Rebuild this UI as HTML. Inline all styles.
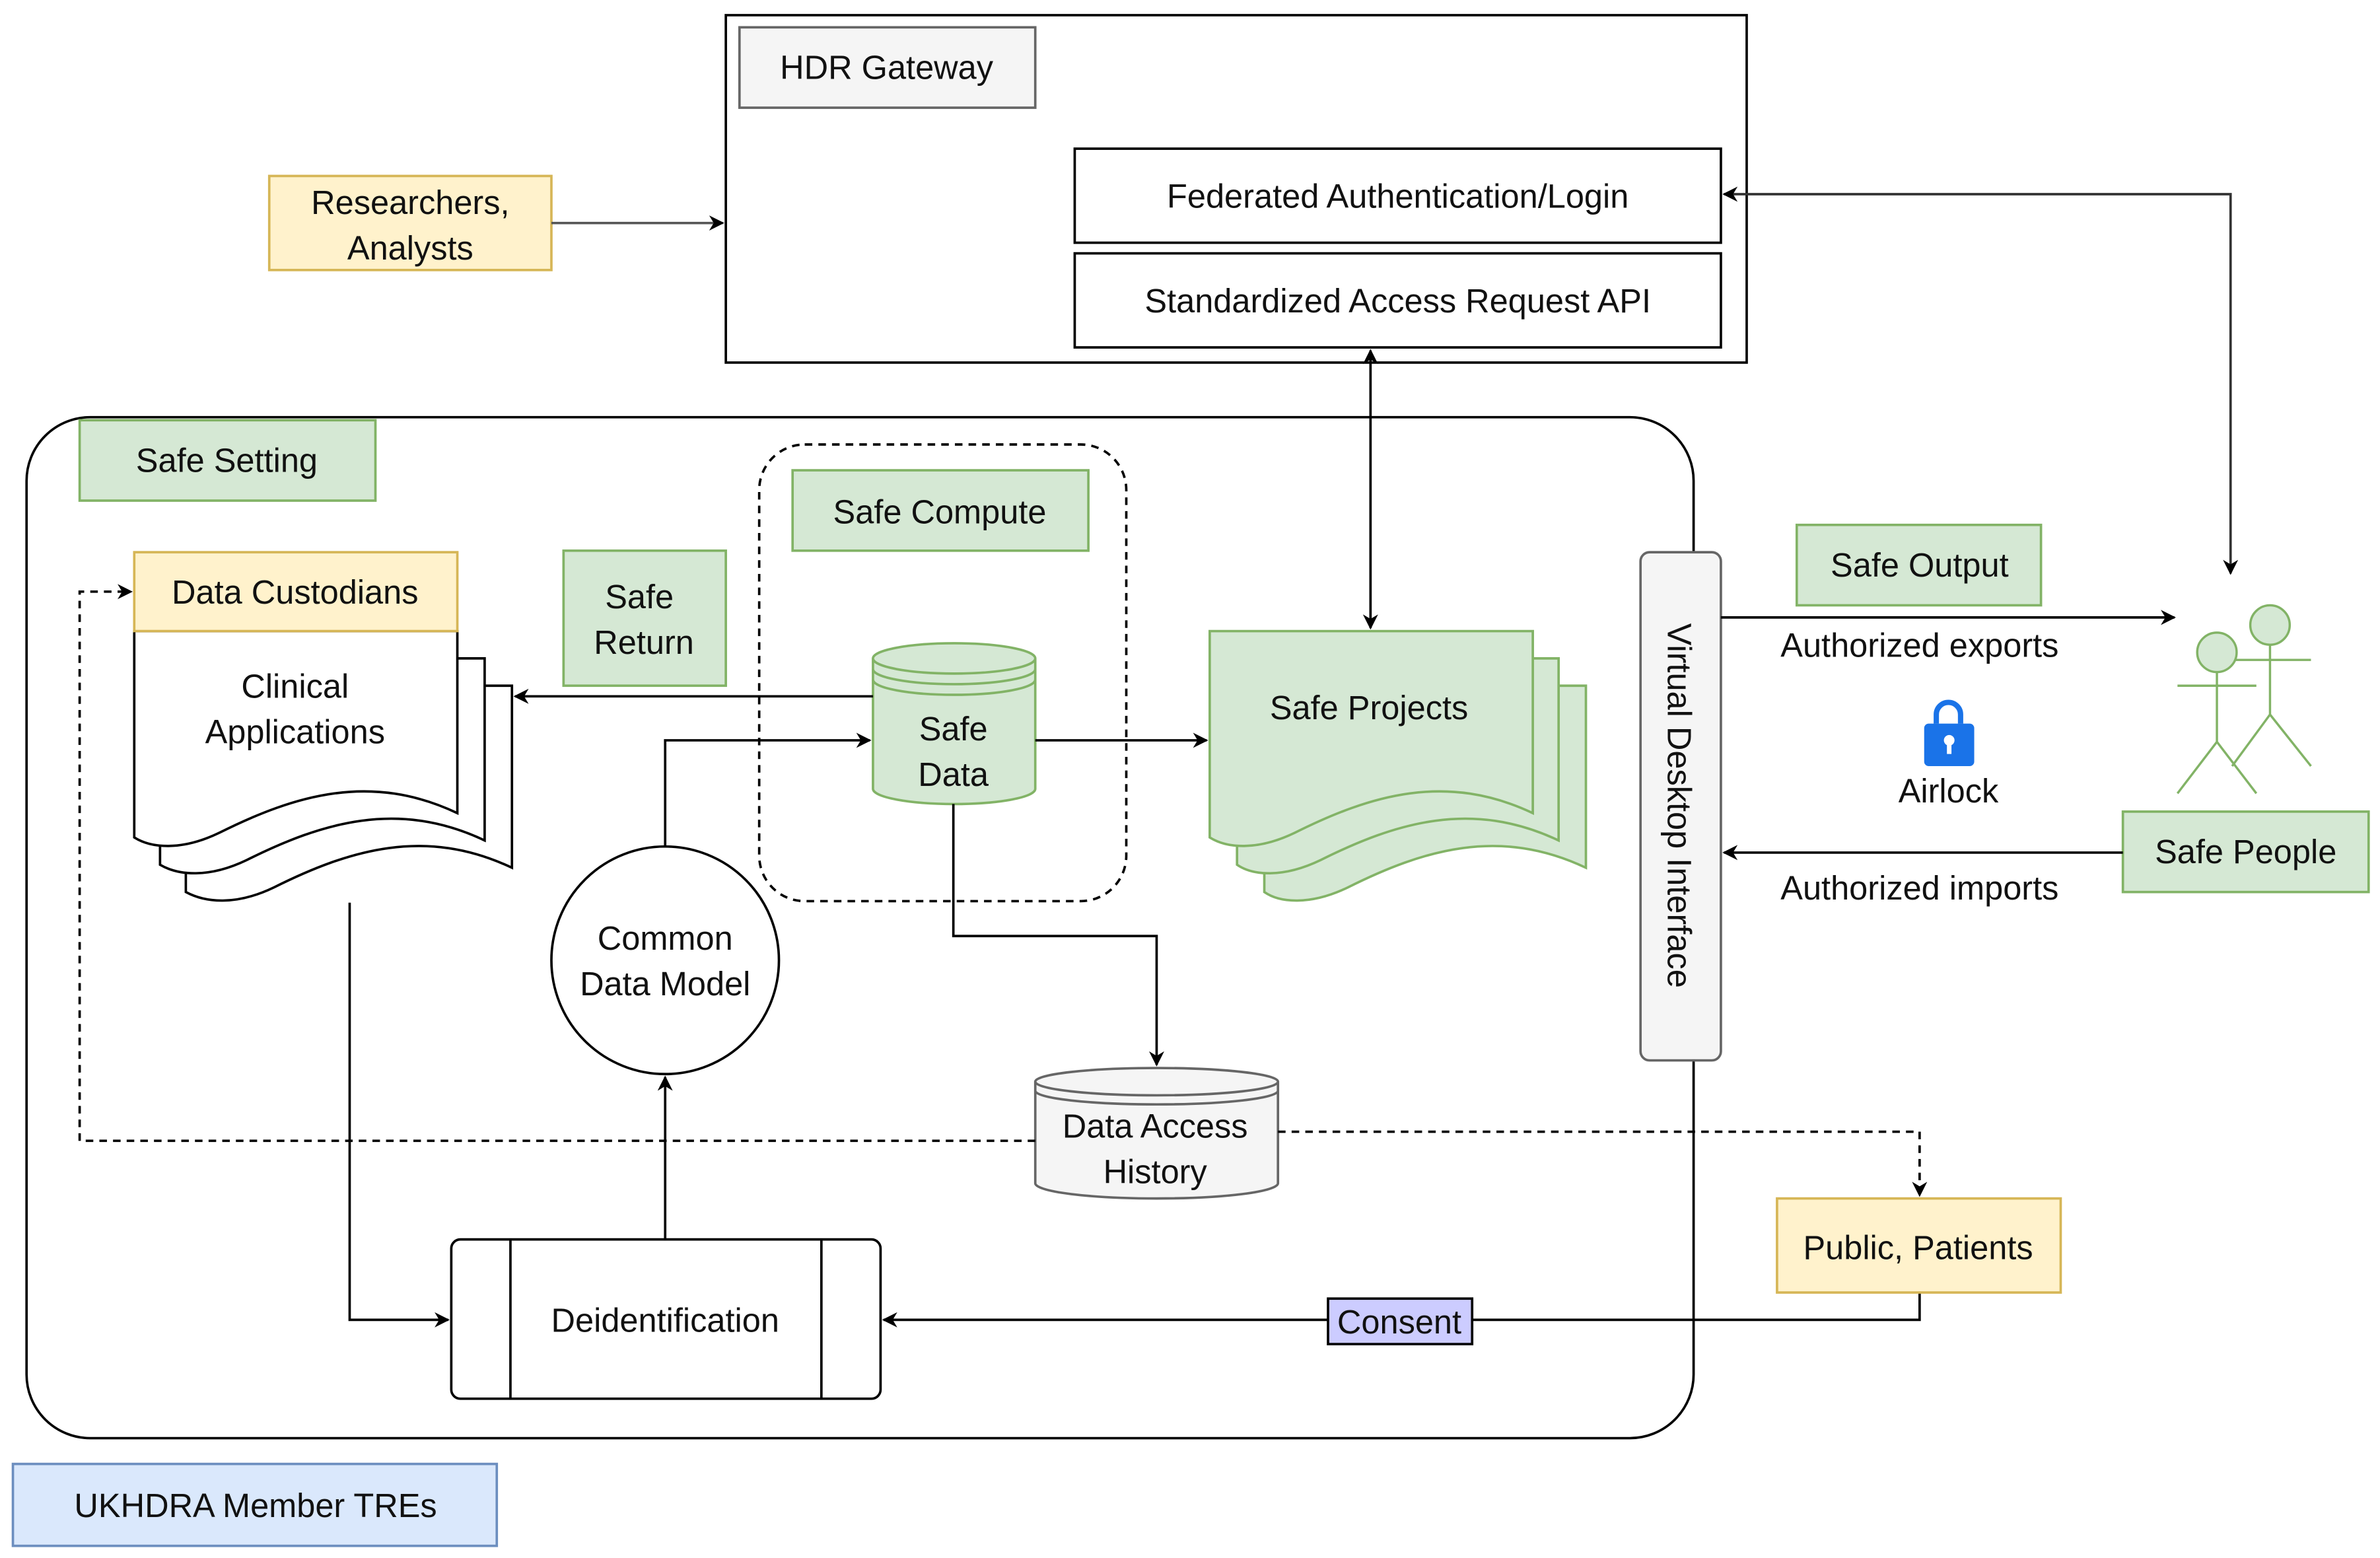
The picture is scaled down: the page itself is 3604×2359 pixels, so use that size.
<!DOCTYPE html>
<html><head><meta charset="utf-8"><style>html,body{margin:0;padding:0;background:#fff}svg{display:block}text{font-family:"Liberation Sans",Arial,sans-serif;font-size:22px;fill:#111}</style></head>
<body>
<svg width="3604" height="2359" viewBox="0 0 1568 1027" xmlns="http://www.w3.org/2000/svg">
<defs>
<marker id="a" viewBox="0 0 10 10" refX="9" refY="5" markerWidth="10" markerHeight="10" orient="auto-start-reverse" markerUnits="userSpaceOnUse"><path d="M0,0 L10,5 L0,10 L3,5 z" fill="#000"/></marker>
</defs>
<g stroke="#000" stroke-width="1.6" fill="none">
<rect x="478" y="10" width="673" height="229" fill="#fff"/>
<rect x="487" y="18" width="195" height="53" fill="#f5f5f5" stroke="#666"/>
<rect x="708" y="98" width="426" height="62" fill="#fff"/>
<rect x="708" y="167" width="426" height="62" fill="#fff"/>
<rect x="177" y="116" width="186" height="62" fill="#fff2cc" stroke="#d6b656"/>
<line x1="363" y1="147" x2="476" y2="147" marker-end="url(#a)" stroke="#555"/>
<polyline points="1470,378 1470,128 1136,128" marker-start="url(#a)" marker-end="url(#a)" stroke="#333"/>
<rect x="17" y="275" width="1099" height="673" rx="42" fill="none"/>
<rect x="52" y="277" width="195" height="53" fill="#d5e8d4" stroke="#82b366"/>
<rect x="500" y="293" width="242" height="301" rx="30" stroke-dasharray="5,4"/>
<rect x="522" y="310" width="195" height="53" fill="#d5e8d4" stroke="#82b366"/>
<rect x="371" y="363" width="107" height="89" fill="#d5e8d4" stroke="#82b366"/>
<path d="M122,452 H337 V572 C280,545 230,560 180,585 C155,597 135,595 122,588 Z" fill="#fff"/>
<path d="M105,434 H319 V554 C262,527 212,542 162,567 C137,579 117,577 105,570 Z" fill="#fff"/>
<path d="M88,416 H301 V536 C244,509 194,524 144,549 C119,561 99,559 88,552 Z" fill="#fff"/>
<rect x="88" y="364" width="213" height="52" fill="#fff2cc" stroke="#d6b656"/>
<path d="M833,452 H1045 V572 C988,545 938,560 888,585 C863,597 843,595 833,588 Z" fill="#d5e8d4" stroke="#82b366"/>
<path d="M815,434 H1027 V554 C970,527 920,542 870,567 C845,579 825,577 815,570 Z" fill="#d5e8d4" stroke="#82b366"/>
<path d="M797,416 H1010 V536 C953,509 903,524 853,549 C828,561 808,559 797,552 Z" fill="#d5e8d4" stroke="#82b366"/>
<path d="M575,434 V520 A53.5,10 0 0 0 682,520 V434" fill="#d5e8d4" stroke="#82b366"/>
<ellipse cx="628.5" cy="434" rx="53.5" ry="10" fill="#d5e8d4" stroke="#82b366"/>
<path d="M575,441 A53.5,10 0 0 0 682,441 M575,448 A53.5,10 0 0 0 682,448" stroke="#82b366"/>
<path d="M682,713 V780 A80,10 0 0 0 842,780 V713" fill="#f5f5f5" stroke="#666"/>
<ellipse cx="762" cy="713" rx="80" ry="9" fill="#f5f5f5" stroke="#666"/>
<path d="M682,719 A80,9 0 0 0 842,719" stroke="#666"/>
<circle cx="438" cy="633" r="75" fill="#fff"/>
<rect x="297" y="817" width="283" height="105" rx="6" fill="#fff"/>
<line x1="336" y1="817" x2="336" y2="922"/><line x1="541" y1="817" x2="541" y2="922"/>
<line x1="682" y1="488" x2="795" y2="488" marker-end="url(#a)"/>
<line x1="575" y1="459" x2="339" y2="459" marker-end="url(#a)"/>
<polyline points="438,558 438,488 573,488" marker-end="url(#a)"/>
<line x1="438" y1="817" x2="438" y2="710" marker-end="url(#a)"/>
<polyline points="230,595 230,870 295,870" marker-end="url(#a)"/>
<polyline points="628,530 628,617 762,617 762,702" marker-end="url(#a)"/>
<polyline points="682,752 52,752 52,390 86,390" stroke-dasharray="5,4" marker-end="url(#a)"/>
<polyline points="842,746 1265,746 1265,788" stroke-dasharray="5,4" marker-end="url(#a)"/>
<polyline points="1265,852 1265,870 582,870" marker-end="url(#a)"/>
<line x1="903" y1="231" x2="903" y2="414" marker-start="url(#a)" marker-end="url(#a)"/>
<rect x="1081" y="364" width="53" height="335" rx="6" fill="#f5f5f5" stroke="#666"/>
<rect x="1184" y="346" width="161" height="53" fill="#d5e8d4" stroke="#82b366"/>
<line x1="1134" y1="407" x2="1433" y2="407" marker-end="url(#a)"/>
<rect x="1399" y="535" width="162" height="53" fill="#d5e8d4" stroke="#82b366"/>
<line x1="1399" y1="562" x2="1136" y2="562" marker-end="url(#a)"/>
<rect x="1171" y="790" width="187" height="62" fill="#fff2cc" stroke="#d6b656"/>
<rect x="875" y="856" width="95" height="30" fill="#ccccff" stroke="#000"/>
<rect x="8" y="965" width="319" height="54" fill="#dae8fc" stroke="#6c8ebf"/>
<g stroke="#82b366" stroke-width="1.5">
<circle cx="1496" cy="412" r="13" fill="#d5e8d4"/>
<line x1="1471" y1="435" x2="1523" y2="435"/><line x1="1496" y1="425" x2="1496" y2="471"/>
<polyline points="1471,505 1496,471 1523,505"/>
<circle cx="1461" cy="430" r="13" fill="#d5e8d4"/>
<line x1="1435" y1="452" x2="1487" y2="452"/><line x1="1461" y1="443" x2="1461" y2="489"/>
<polyline points="1435,523 1461,489 1487,523"/>
</g>
</g>
<path d="M1276,477 V471 A8,8 0 0 1 1292,471 V477" fill="none" stroke="#1a73e8" stroke-width="3.5"/>
<rect x="1268" y="477" width="33" height="28" rx="3" fill="#1a73e8"/>
<circle cx="1284.5" cy="488" r="3.5" fill="#fff"/><rect x="1283" y="489" width="3" height="8" fill="#fff"/>
<g text-anchor="middle">
<text x="584" y="52" fill="#333">HDR Gateway</text>
<text x="921" y="137">Federated Authentication/Login</text>
<text x="921" y="206">Standardized Access Request API</text>
<text x="270" y="141">Researchers,</text><text x="270" y="171">Analysts</text>
<text x="149" y="311">Safe Setting</text>
<text x="619" y="345">Safe Compute</text>
<text x="421" y="401">Safe</text><text x="424" y="431">Return</text>
<text x="194" y="398">Data Custodians</text>
<text x="194" y="460">Clinical</text><text x="194" y="490">Applications</text>
<text x="628" y="488">Safe</text><text x="628" y="518">Data</text>
<text x="902" y="474">Safe Projects</text>
<text x="438" y="626">Common</text><text x="438" y="656">Data Model</text>
<text x="761" y="750" fill="#333">Data Access</text><text x="761" y="780" fill="#333">History</text>
<text x="438" y="878">Deidentification</text>
<text x="1265" y="380">Safe Output</text>
<text x="1265" y="433">Authorized exports</text>
<text x="1284" y="529">Airlock</text>
<text x="1480" y="569">Safe People</text>
<text x="1265" y="593">Authorized imports</text>
<text x="1264" y="830">Public, Patients</text>
<text x="922" y="879">Consent</text>
<text x="168" y="1000">UKHDRA Member TREs</text>
<text x="0" y="0" transform="translate(1099,531) rotate(90)" fill="#333">Virtual Desktop Interface</text>
</g>
</svg>
</body></html>
